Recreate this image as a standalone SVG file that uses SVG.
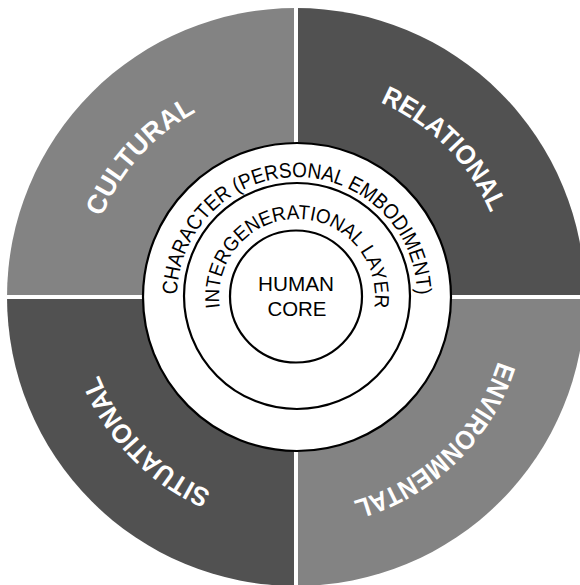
<svg xmlns="http://www.w3.org/2000/svg" xmlns:xlink="http://www.w3.org/1999/xlink" width="580" height="585" viewBox="0 0 580 585">
  <style>
    .light { fill: #838383; }
    .dark { fill: #515151; }
    .divider { stroke: #ffffff; stroke-width: 4; }
    .ring { fill: #ffffff; stroke: #000000; stroke-width: 2.2; }
    .qlabel { font-family: "Liberation Sans", Arial, sans-serif; font-weight: bold; font-size: 27px; fill: #ffffff; }
    .rlabel { font-family: "Liberation Sans", Arial, sans-serif; font-size: 21px; fill: #000000; }
  </style>
  <defs>
    <path id="arcCultural" d="M154.15,454.54 A212,212 0 0 1 437.85,139.46"/>
    <path id="arcRelational" d="M146.09,147.09 A212,212 0 0 1 445.91,446.91"/>
    <path id="arcEnvironmental" d="M448.5,149.73 A212,212 0 0 1 143.5,444.27"/>
    <path id="arcSituational" d="M443.27,449.5 A212,212 0 0 1 148.73,144.5"/>
    <path id="arcCharacter" d="M177.02,294.91 A120,120 0 0 1 416.98,294.91"/>
    <path id="arcInter" d="M219.86,308.53 A78,78 0 1 1 374.14,308.53"/>
  </defs>

  <g id="cultural">
    <path class="light" d="M296,297 L7,297 A289,289 0 0 1 296,8 Z"/>
    <text class="qlabel"><textPath xlink:href="#arcCultural" href="#arcCultural" startOffset="50%" text-anchor="middle" textLength="144" lengthAdjust="spacingAndGlyphs">CULTURAL</textPath></text>
  </g>
  <g id="relational">
    <path class="dark" d="M296,297 L296,8 A289,289 0 0 1 585,297 Z"/>
    <text class="qlabel"><textPath xlink:href="#arcRelational" href="#arcRelational" startOffset="50%" text-anchor="middle" textLength="160" lengthAdjust="spacingAndGlyphs">RELATIONAL</textPath></text>
  </g>
  <g id="environmental">
    <path class="light" d="M296,297 L585,297 A289,289 0 0 1 296,586 Z"/>
    <text class="qlabel"><textPath xlink:href="#arcEnvironmental" href="#arcEnvironmental" startOffset="50%" text-anchor="middle" textLength="210" lengthAdjust="spacingAndGlyphs">ENVIRONMENTAL</textPath></text>
  </g>
  <g id="situational">
    <path class="dark" d="M296,297 L296,586 A289,289 0 0 1 7,297 Z"/>
    <text class="qlabel"><textPath xlink:href="#arcSituational" href="#arcSituational" startOffset="50%" text-anchor="middle" textLength="166" lengthAdjust="spacingAndGlyphs">SITUATIONAL</textPath></text>
  </g>

  <g id="dividers">
    <line class="divider" x1="296" y1="0" x2="296" y2="585"/>
    <line class="divider" x1="0" y1="297" x2="580" y2="297"/>
  </g>

  <g id="character">
    <circle class="ring" cx="297" cy="297" r="154"/>
    <text class="rlabel"><textPath xlink:href="#arcCharacter" href="#arcCharacter" startOffset="50%" text-anchor="middle" textLength="372" lengthAdjust="spacingAndGlyphs">CHARACTER (PERSONAL EMBODIMENT)</textPath></text>
  </g>
  <g id="intergenerational">
    <circle class="ring" cx="297" cy="296" r="113"/>
    <text class="rlabel" style="font-size:20px"><textPath xlink:href="#arcInter" href="#arcInter" startOffset="50%" text-anchor="middle" textLength="266" lengthAdjust="spacingAndGlyphs">INTERGENERATIONAL LAYER</textPath></text>
  </g>
  <g id="human-core">
    <circle class="ring" cx="296" cy="296.5" r="66"/>
    <text class="rlabel" x="296" y="291" text-anchor="middle" style="font-size:20px" textLength="76" lengthAdjust="spacingAndGlyphs">HUMAN</text>
    <text class="rlabel" x="297" y="316" text-anchor="middle" style="font-size:20px" textLength="59" lengthAdjust="spacingAndGlyphs">CORE</text>
  </g>
</svg>
